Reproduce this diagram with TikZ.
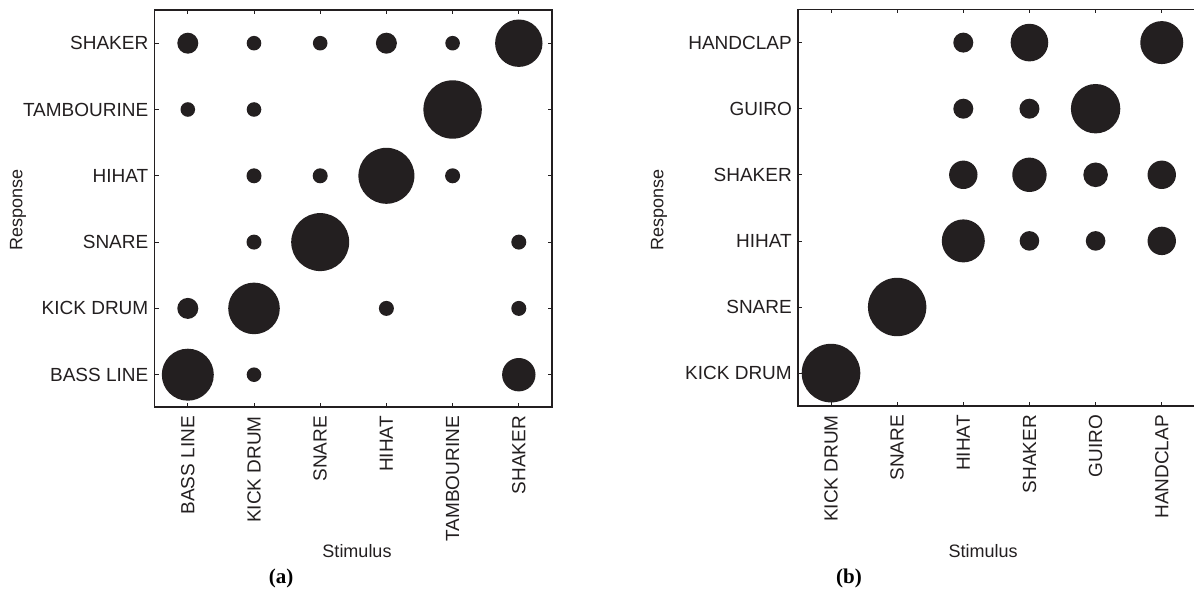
\documentclass[tikz,border=0pt]{standalone}
\usepackage{fontspec}
\setmainfont{Liberation Sans}
\newfontfamily\capfont{Liberation Serif}
\definecolor{ink}{HTML}{231F20}
\begin{document}
\begin{tikzpicture}[x=1pt,y=-1pt,
  frame/.style={draw=ink,line width=1.2pt},
  tick/.style={draw=ink,line width=0.8pt},
  dot/.style={fill=ink},
  ylab/.style={anchor=east,inner sep=0pt,font=\fontsize{19}{19}\selectfont,text=ink},
  xlab/.style={anchor=east,rotate=90,inner sep=0pt,font=\fontsize{19}{19}\selectfont,text=ink},
  axlab/.style={inner sep=0pt,font=\fontsize{18}{18}\selectfont,text=ink},
  caplab/.style={inner sep=0pt,font=\capfont\bfseries\fontsize{21}{21}\selectfont,text=black}]
\useasboundingbox (0,0) rectangle (1194,599);
% ---------------- panel (a) ----------------
\def\ax{154.7} \def\ay{10} \def\bx{552} \def\by{407}
\draw[frame] (\ax,\ay) rectangle (\bx,\by);
\foreach \i in {0,...,5}{
  \pgfmathsetmacro\cx{187.8+66.2*\i}
  \pgfmathsetmacro\cy{43.2+66.3*\i}
  \draw[tick] (\cx,\ay) -- ++(0,4);
  \draw[tick] (\cx,\by) -- ++(0,-4);
  \draw[tick] (\ax,\cy) -- ++(4,0);
  \draw[tick] (\bx,\cy) -- ++(-4,0);
}
% y labels (top to bottom)
\foreach \t [count=\k from 0] in {SHAKER,TAMBOURINE,HIHAT,SNARE,KICK DRUM,BASS LINE}{
  \pgfmathsetmacro\cy{43.2+66.3*\k}
  \node[ylab] (ay\k) at (148.5,\cy) {\t};
}
% x labels
\foreach \t [count=\k from 0] in {BASS LINE,KICK DRUM,SNARE,HIHAT,TAMBOURINE,SHAKER}{
  \pgfmathsetmacro\cx{187.8+66.2*\k}
  \node[xlab] (ax\k) at (\cx,416) {\t};
}
\node[axlab,rotate=90] (aresp) at (18,210) {Response};
\node[axlab] (astim) at (357,551) {Stimulus};
\node[caplab] (acap) at (281,578) {(a)};
% dots: col/row/radius (row 0 = top)
\foreach \c/\r/\s in {
  0/0/10.5, 1/0/7.3, 2/0/7.3, 3/0/10.5, 4/0/7.3, 5/0/23.7,
  0/1/7.3, 1/1/7.3, 4/1/29.2,
  1/2/7.5, 2/2/7.5, 3/2/28, 4/2/7.5,
  1/3/7.5, 2/3/29, 5/3/7.5,
  0/4/10.5, 1/4/25.8, 3/4/7.5, 5/4/7.5,
  0/5/26, 1/5/7.3, 5/5/16.7}{
  \fill[dot] ({187.8+66.2*\c},{43.2+66.3*\r}) circle (\s);
}
% ---------------- panel (b) ----------------
\def\cxa{798} \def\cya{9.3} \def\dxb{1198} \def\dyb{406}
\begin{scope}
\clip (0,0) rectangle (1194,599);
\draw[frame] (\cxa,\cya) rectangle (\dxb,\dyb);
\end{scope}
\foreach \i in {0,...,5}{
  \pgfmathsetmacro\cx{831+66.15*\i}
  \pgfmathsetmacro\cy{42.6+66.1*\i}
  \draw[tick] (\cx,\cya) -- ++(0,4);
  \draw[tick] (\cx,\dyb) -- ++(0,-4);
  \draw[tick] (\cxa,\cy) -- ++(4,0);
}
\foreach \t [count=\k from 0] in {HANDCLAP,GUIRO,SHAKER,HIHAT,SNARE,KICK DRUM}{
  \pgfmathsetmacro\cy{42.6+66.1*\k}
  \node[ylab] (by\k) at (792,\cy) {\t};
}
\foreach \t [count=\k from 0] in {KICK DRUM,SNARE,HIHAT,SHAKER,GUIRO,HANDCLAP}{
  \pgfmathsetmacro\cx{831+66.15*\k}
  \node[xlab] (bx\k) at (\cx,415) {\t};
}
\node[axlab,rotate=90] (bresp) at (659,210) {Response};
\node[axlab] (bstim) at (983,551) {Stimulus};
\node[caplab] (bcap) at (849,578) {(b)};
\foreach \c/\r/\s in {
  2/0/10, 3/0/18.8, 5/0/21.5,
  2/1/10, 3/1/10, 4/1/24.7,
  2/2/14.2, 3/2/17.2, 4/2/12.3, 5/2/14.2,
  2/3/21.5, 3/3/9.8, 4/3/9.8, 5/3/14.2,
  1/4/29.2,
  0/5/29.3}{
  \fill[dot] ({831+66.15*\c},{42.6+66.1*\r}) circle (\s);
}
\end{tikzpicture}
\end{document}
